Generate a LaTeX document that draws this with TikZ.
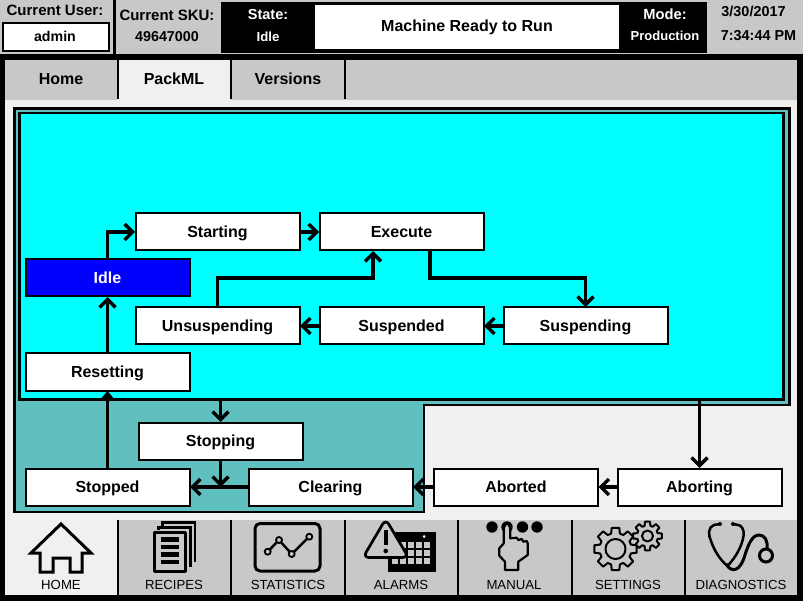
\documentclass[tikz,border=0pt]{standalone}
\usepackage{fontspec}
\setmainfont{Liberation Sans}
\usetikzlibrary{arrows.meta}
\definecolor{panelgray}{HTML}{C8C8C8}
\definecolor{panellight}{HTML}{F0F0F0}
\definecolor{teal}{HTML}{60C0C0}
\definecolor{runcyan}{HTML}{00FFFF}
\tikzset{
	statebox/.style = {draw = black, fill = white, line width = 2pt, minimum width = 164pt, minimum height = 37pt, inner sep = 0pt, outer sep = 0.5pt, text height = 13pt, text depth = 2pt, font = \fontsize{16}{18}\selectfont\bfseries},
	flow/.style = {line width = 3.5pt, -{Straight Barb[length = 8pt, width = 16pt, line width = 3.5pt]}},
	toptext/.style = {inner sep = 0pt, font = \fontsize{#1}{18}\selectfont\bfseries},
	tabtext/.style = {inner sep = 0pt, text height = 13pt, text depth = 2pt, font = \fontsize{16}{18}\selectfont\bfseries},
	icontext/.style = {inner sep = 0pt, text height = 10pt, text depth = 0pt, font = \fontsize{13.2}{15}\selectfont},
	iconline/.style = {line width = 2.5pt, line join = round, draw = black, fill = panelgray},
}
\newcommand{\gearicon}[5]{
	\draw[iconline, line width = 2pt, shift = {(#1, #2)}] (-16:#4) foreach \a in {0, 45, ..., 315} { -- (\a-16:#4) -- (\a-10:#3) -- (\a+10:#3) -- (\a+16:#4) } -- cycle;
	\draw[iconline, line width = 2pt, shift = {(#1, #2)}] (0, 0) circle (#5);
}
\begin{document}
\begin{tikzpicture}[x = 1pt, y = -1pt]
	\useasboundingbox (0, 0) rectangle (803, 601);
	\fill[panelgray] (0, 0) rectangle (803, 601);
	\fill[black] (113, 0) rectangle (116, 55);
	\fill[black] (0, 54) rectangle (803, 60);
	\fill[black] (0, 54) rectangle (5, 601);
	\fill[black] (797, 54) rectangle (803, 601);
	\fill[black] (0, 595) rectangle (803, 601);
	\draw[black, fill = white, line width = 2pt] (3, 23) rectangle (109, 51);
	\fill[black] (221, 2) rectangle (707, 53);
	\fill[white] (315, 5) rectangle (619, 49);
	\fill[panellight] (5, 100) rectangle (797, 519.5);
	\fill[panellight] (117, 60) rectangle (231, 100);
	\fill[panellight] (5, 519) rectangle (117, 595);
	\foreach \x in {118, 231, 345}
	{
		\draw[line width = 2.5pt] (\x, 60) -- (\x, 99);
	}
	\foreach \x in {118, 231, 345, 458, 572, 685}
	{
		\draw[line width = 2.5pt] (\x, 519.5) -- (\x, 595);
	}
	\node[toptext = 15] (curuser) at (55, 10) {Current User:};
	\node[toptext = 14.2] (admin) at (55, 36.5) {admin};
	\node[toptext = 15] (cursku) at (167, 15) {Current SKU:};
	\node[toptext = 14.3] (skuval) at (167, 36.5) {49647000};
	\node[toptext = 14.5, text = white] (statelab) at (268, 14.6) {State:};
	\node[toptext = 13.2, text = white] (stateval) at (268, 37) {Idle};
	\node[toptext = 16, text height = 13pt, text depth = 1.5pt] (message) at (467, 26) {Machine Ready to Run};
	\node[toptext = 14.7, text = white] (modelab) at (665, 14.6) {Mode:};
	\node[toptext = 13, text = white] (modeval) at (665, 36) {Production};
	\node[toptext = 14.4] (dateval) at (753.5, 11.5) {3/30/2017};
	\node[toptext = 14.4] (timeval) at (758.5, 35.4) {7:34:44 PM};
	\foreach \Name/\X/\Txt in {tabhome/61/Home, tabpack/174/PackML, tabvers/288/Versions}
	{
		\node[tabtext] (\Name) at (\X, 79.5) {\Txt};
	}
	\draw[black, fill = teal, line width = 2.7pt] (14.3, 108.5) -- (789.5, 108.5) -- (789.5, 405) -- (424, 405) -- (424, 512) -- (14.3, 512) -- cycle;
	\node[draw = black, fill = runcyan, line width = 2.7pt, minimum width = 764pt, minimum height = 286.5pt, inner sep = 0pt] (runbox) at (401.5, 256.3) {};
	\foreach \Name/\X/\Y/\Txt in {starting/217.5/232/Starting, execute/401.5/232/Execute, unsuspending/217.5/326/Unsuspending, suspended/401.5/326/Suspended, suspending/585.5/326/Suspending, resetting/107.5/372/Resetting, stopping/220.5/441/Stopping, stopped/107.5/487/Stopped, clearing/330.5/487/Clearing, aborted/516/487/Aborted, aborting/699.5/487/Aborting}
	{
		\node[statebox] (\Name) at (\X, \Y) {\Txt};
	}
	\node[statebox, fill = blue, text = white] (idle) at (107.5, 278) {Idle};
	\foreach \a/\b in {starting/execute, suspending/suspended, suspended/unsuspending, resetting/idle, clearing/stopped, aborted/clearing, aborting/aborted}
	{
		\draw[flow] (\a) -- (\b);
	}
	\draw[line width = 3.5pt, -{Triangle[length = 8pt, width = 13pt]}] (stopped) -- (resetting);
	\draw[flow] (idle.north) |- (starting.west);
	\draw[flow] ([xshift = 28.5pt]execute.south) -- ++(0, 27) -| (suspending.north);
	\draw[flow] (unsuspending.north) -- ++(0, -29) -| ([xshift = -28.5pt]execute.south);
	\draw[flow] (runbox.south -| stopping.north) -- (stopping.north);
	\draw[flow] (runbox.south -| aborting.north) -- (aborting.north);
	\draw[flow] (stopping.south) -- (stopping.south |- clearing.west);
	\foreach \Name/\X/\Txt in {labhome/61/HOME, labrecipes/174/RECIPES, labstats/288/STATISTICS, labalarms/401/ALARMS, labmanual/514/MANUAL, labsettings/628/SETTINGS, labdiag/741/DIAGNOSTICS}
	{
		\node[icontext] (\Name) at (\X, 584.5) {\Txt};
	}
	\draw[iconline, fill = none, line width = 3pt, line join = miter] (61, 524) -- (31, 553) -- (40, 553) -- (40, 572) -- (53, 572) -- (53, 558) -- (70, 558) -- (70, 572) -- (82, 572) -- (82, 553) -- (91, 553) -- cycle;
	\draw[line width = 2.7pt] (162.7, 526) -- (162.7, 522.5) -- (195, 522.5) -- (195, 561.7);
	\draw[line width = 2.7pt] (158.3, 530) -- (158.3, 527.7) -- (190.5, 527.7) -- (190.5, 566.7);
	\draw[iconline, line width = 3pt] (154.3, 532.8) rectangle (185.5, 571);
	\foreach \y in {539.5, 547, 554.5, 562}
	{
		\draw[line width = 4.2pt] (160.5, \y) -- (179, \y);
	}
	\draw[iconline, line width = 3pt, rounded corners = 5pt] (255, 523.5) rectangle (320, 571);
	\draw[line width = 2.5pt] (267.7, 551.7) -- (279, 540) -- (291.7, 554) -- (309.3, 536.7);
	\foreach \X/\Y in {267.7/551.7, 279/540, 291.7/554, 309.3/536.7}
	{
		\draw[line width = 1.8pt, fill = panelgray] (\X, \Y) circle (3pt);
	}
	\fill[black] (388, 532) rectangle (435.5, 571.5);
	\fill[white] (424, 536.5) circle (1.5pt);
	\foreach \X in {392, 400, 408, 416, 424}
	{
		\foreach \Y in {542, 550, 558}
		{
			\fill[panelgray] (\X, \Y) rectangle ++(6.3, 6.3);
		}
	}
	\draw[iconline, line width = 2.7pt, rounded corners = 6pt] (385.7, 519) -- (408.5, 557.5) -- (363, 557.5) -- cycle;
	\draw[line width = 4pt] (385.7, 530) -- (385.7, 545);
	\fill[black] (385.7, 551) circle (2.3pt);
	\foreach \X in {492, 507, 522.5, 537}
	{
		\fill[black] (\X, 527) circle (5.7pt);
	}
	\draw[iconline, line width = 2.2pt] (503.8, 543.3) -- (503.8, 527) to[out = -90, in = 180] (507, 523.5) to[out = 0, in = -90] (510.2, 527) -- (510.2, 538.3) -- (516.7, 537.7) -- (518.3, 540) -- (521.7, 539) -- (523.3, 541.7) -- (526.7, 541) -- (527.7, 543.3) -- (527.7, 555) -- (518.3, 561.7) -- (518.3, 570) -- (505, 570) -- (505, 561.7) -- (499.3, 555.7) -- (499.3, 548.3) -- cycle;
	\gearicon{647.5}{536}{14.5}{10.5}{5.5}
	\gearicon{615.5}{549}{21.5}{16}{10}
	\draw[line width = 2.5pt, line cap = round] (720, 524) -- (714, 525) .. controls (708, 527) and (708, 535) .. (711, 541) .. controls (714, 550) and (720, 560) .. (727.5, 566) .. controls (736, 557) and (742, 546) .. (743.5, 536) .. controls (744.5, 529) and (741, 525) .. (738, 525) -- (733, 524);
	\draw[line width = 3pt] (726, 564) .. controls (732, 574) and (740, 570) .. (744, 558) .. controls (748, 545) and (752, 535) .. (759, 535) .. controls (765, 535) and (768, 541) .. (767, 549);
	\draw[line width = 3pt] (766, 555.5) circle (6.5pt);
	\fill[black] (720, 524) circle (2pt);
	\fill[black] (733, 524) circle (2pt);
\end{tikzpicture}
\end{document}
